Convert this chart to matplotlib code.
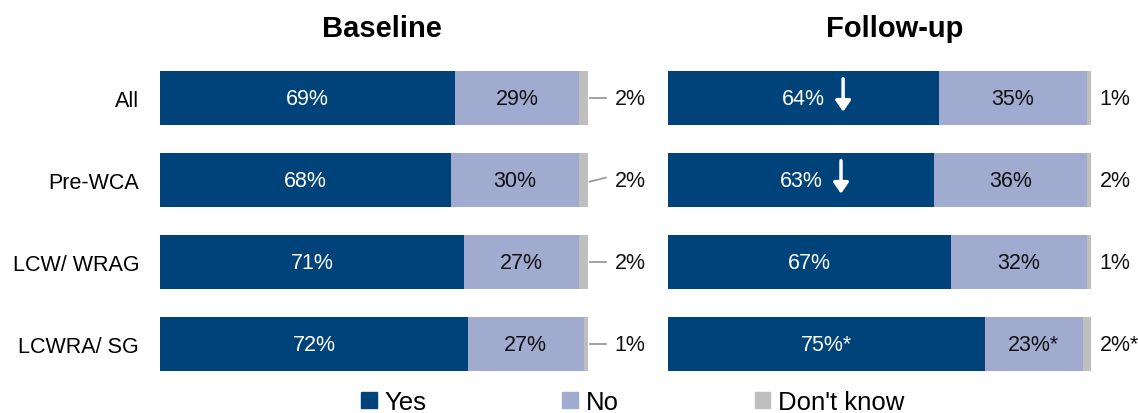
import numpy as np
import matplotlib
matplotlib.use("Agg")
import matplotlib.pyplot as plt
from matplotlib.patches import Patch

plt.rcParams['font.family'] = ['Liberation Sans', 'DejaVu Sans']

grupos = ["All", "Pre-WCA", "LCW/ WRAG", "LCWRA/ SG"]

base_yes = [69, 68, 71, 72]
base_no = [29, 30, 27, 27]
base_dk = [2, 2, 2, 1]

fol_yes = [64, 63, 67, 75]
fol_no = [35, 36, 32, 23]
fol_dk = [1, 2, 1, 2]

# etiquetas (con asteriscos / flechas)
fol_yes_lab = ["64%", "63%", "67%", "75%*"]
fol_no_lab = ["35%", "36%", "32%", "23%*"]
fol_dk_lab = ["1%", "2%", "1%", "2%*"]
fol_flecha = [True, True, False, False]

c_yes = "#00427A"
c_no = "#A0ABCF"
c_dk = "#BFBFBF"

fs = 15.5

fig = plt.figure(figsize=(11.38, 4.14), dpi=100)
ax1 = fig.add_axes([0.1406, 0.0676, 0.376, 0.792])
ax2 = fig.add_axes([0.587, 0.0676, 0.3717, 0.792])

y = np.arange(len(grupos))
h = 0.66

for ax, yes, no, dk in [(ax1, base_yes, base_no, base_dk), (ax2, fol_yes, fol_no, fol_dk)]:
    yes = np.array(yes); no = np.array(no); dk = np.array(dk)
    ax.barh(y, yes, height=h, color=c_yes)
    ax.barh(y, no, left=yes, height=h, color=c_no)
    ax.barh(y, dk, left=yes + no, height=h, color=c_dk)
    ax.set_xlim(0, 100)
    ax.set_ylim(3.5, -0.5)
    ax.set_xticks([])
    for s in ax.spines.values():
        s.set_visible(False)

ax1.set_yticks(y, labels=grupos)
ax1.tick_params(axis="y", length=0, pad=15, labelsize=fs)
ax2.set_yticks([])

# etiquetas baseline
for i in range(len(grupos)):
    ax1.text(base_yes[i] / 2, i, f"{base_yes[i]}%", ha="center", va="center", color="white", fontsize=fs)
    ax1.text(base_yes[i] + base_no[i] / 2, i, f"{base_no[i]}%", ha="center", va="center", color="#111111", fontsize=fs)
    ax1.plot([100.4, 104.2], [i + 0.02 * (i == 1), i - 0.03 * (i == 1)], color="#9a9a9a", lw=1.3, clip_on=False)
    ax1.text(106.3, i, f"{base_dk[i]}%", ha="left", va="center", color="#111111", fontsize=fs)

# etiquetas follow-up
for i in range(len(grupos)):
    xc = fol_yes[i] / 2
    ax2.text(xc, i, fol_yes_lab[i], ha="center", va="center", color="white", fontsize=fs)
    if fol_flecha[i]:
        ax2.annotate("", xy=(xc + 9.4, i + 0.2), xytext=(xc + 9.4, i - 0.27),
                     arrowprops=dict(arrowstyle="-|>,head_width=0.45,head_length=0.65",
                                     color="white", lw=2.5))
    ax2.text(fol_yes[i] + fol_no[i] / 2, i, fol_no_lab[i], ha="center", va="center", color="#111111", fontsize=fs)
    ax2.text(102.0, i, fol_dk_lab[i], ha="left", va="center", color="#111111", fontsize=fs)

fig.text(0.3352, 0.929, "Baseline", ha="center", va="center", fontsize=21, fontweight="bold")
fig.text(0.7865, 0.929, "Follow-up", ha="center", va="center", fontsize=21, fontweight="bold")

handles = [Patch(color=c_yes, label="Yes"), Patch(color=c_no, label="No"), Patch(color=c_dk, label="Don't know")]
fig.legend(handles=handles, loc="center", bbox_to_anchor=(0.556, 0.026), ncol=3, frameon=False,
           fontsize=18.5, handlelength=0.6, handleheight=0.6, handletextpad=0.3, columnspacing=5.3,
           borderpad=0)

fig.savefig("out.png", dpi=100)
